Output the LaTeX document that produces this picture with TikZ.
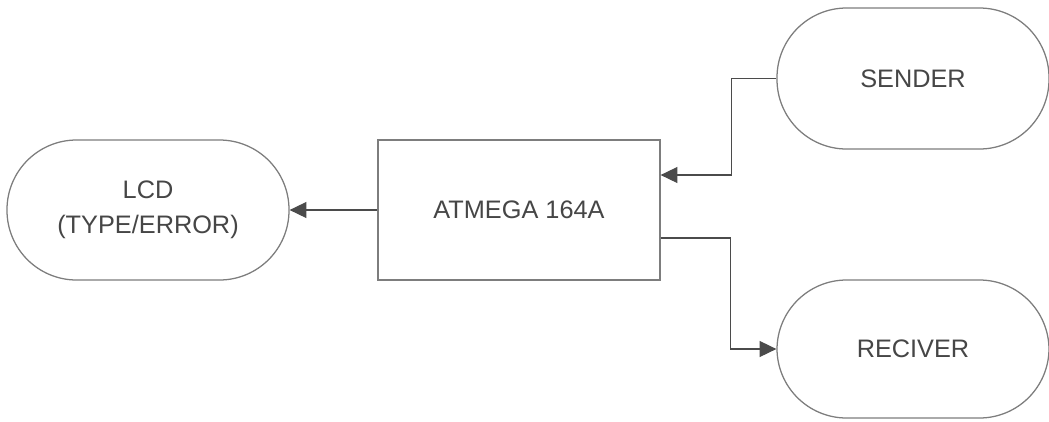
\documentclass[tikz,border=0pt]{standalone}
\usepackage{fontspec}
\setmainfont{Liberation Sans}
\usetikzlibrary{arrows.meta}
\definecolor{edgegray}{RGB}{125,125,125}
\definecolor{linegray}{RGB}{75,75,75}
\definecolor{textgray}{RGB}{70,70,70}
\begin{document}
\begin{tikzpicture}[
    block/.style={draw=edgegray, line width=0.9pt, fill=white, text=textgray,
        inner sep=0pt, align=center, font=\fontsize{18}{25}\selectfont},
    pill/.style={block, rounded corners=1.74cm},
    link/.style={draw=linegray, line width=0.8pt,
        -{Triangle[length=0.42cm,width=0.4cm]}}
]
    \useasboundingbox (0,0) rectangle (26.225,-10.525);

    % LCD
    \node[pill, minimum width=7.05cm, minimum height=3.5cm] (lcd) at (3.7,-5.25) {LCD\\(TYPE/ERROR)};

    % Microcontroller
    \node[block, minimum width=7.05cm, minimum height=3.5cm] (mcu) at (12.975,-5.25) {ATMEGA 164A};

    % Sender
    \node[pill, minimum width=6.8cm, minimum height=3.525cm] (sender) at (22.825,-1.9625) {SENDER};

    % Receiver
    \node[pill, minimum width=6.8cm, minimum height=3.45cm] (receiver) at (22.825,-8.725) {RECIVER};

    % Links
    \draw[link] (mcu.west) -- (lcd.east);
    \draw[link] (sender.west) -- ++(-1.125,0) |- ([yshift=0.875cm]mcu.east);
    \draw[link] ([yshift=-0.7cm]mcu.east) -- ++(1.75,0) |- (receiver.west);
\end{tikzpicture}
\end{document}
